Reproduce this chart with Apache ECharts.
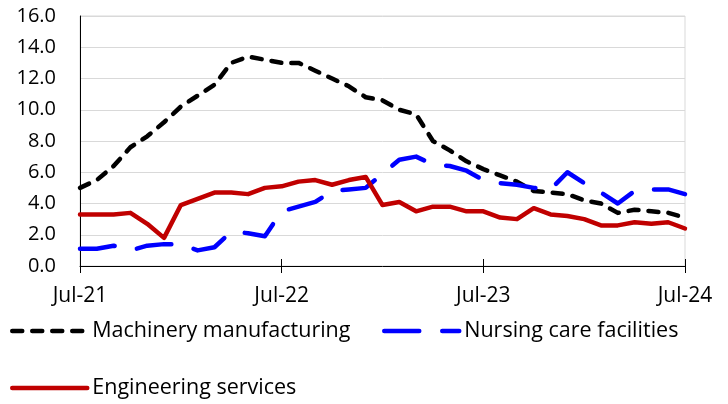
<!DOCTYPE html>
<html>
<head>
<meta charset="utf-8">
<script src="https://cdn.jsdelivr.net/npm/echarts@6/dist/echarts.min.js"></script>
<style>
html,body{margin:0;padding:0;background:#fff;}
#chart{width:728px;height:404px;}
</style>
</head>
<body>
<div id="chart"></div>
<script>
var months = ["Jul-21","Aug-21","Sep-21","Oct-21","Nov-21","Dec-21","Jan-22","Feb-22","Mar-22","Apr-22","May-22","Jun-22",
  "Jul-22","Aug-22","Sep-22","Oct-22","Nov-22","Dec-22","Jan-23","Feb-23","Mar-23","Apr-23","May-23","Jun-23",
  "Jul-23","Aug-23","Sep-23","Oct-23","Nov-23","Dec-23","Jan-24","Feb-24","Mar-24","Apr-24","May-24","Jun-24","Jul-24"];
var machinery = [5.0,5.5,6.4,7.6,8.3,9.2,10.2,10.9,11.6,13.0,13.4,13.2,13.0,13.0,12.5,12.0,11.5,10.8,10.6,10.0,9.7,8.0,7.4,6.7,6.2,5.8,5.4,4.8,4.7,4.6,4.2,4.0,3.4,3.6,3.5,3.4,3.1];
var nursing = [1.1,1.1,1.3,1.0,1.3,1.4,1.4,1.0,1.2,2.2,2.1,1.9,3.5,3.8,4.1,4.8,4.9,5.0,5.9,6.8,7.0,6.5,6.4,6.1,5.5,5.3,5.2,5.0,4.9,6.0,5.3,4.7,4.0,4.8,4.9,4.9,4.6];
var engineering = [3.3,3.3,3.3,3.4,2.7,1.8,3.9,4.3,4.7,4.7,4.6,5.0,5.1,5.4,5.5,5.2,5.5,5.7,3.9,4.1,3.5,3.8,3.8,3.5,3.5,3.1,3.0,3.7,3.3,3.2,3.0,2.6,2.6,2.8,2.7,2.8,2.4];
var seriesNames = ["Machinery manufacturing","Nursing care facilities","Engineering services"];

var FONT = "Open Sans";
var chart = echarts.init(document.getElementById('chart'), null, {renderer:'canvas'});
var legendText = {fontFamily:FONT, fontSize:21.5, color:'#000', lineHeight:22};
function mkLegend(name, left, top){
  return {data:[name], left:left, top:top, padding:0, itemWidth:75, itemHeight:14,
    textStyle:legendText, itemStyle:{opacity:0}, lineStyle:{width:4.5}};
}
chart.setOption({
  animation:false,
  backgroundColor:'#fff',
  grid:{left:80, right:43, top:16, bottom:138, show:true, borderColor:'#d9d9d9', borderWidth:1},
  legend:[
    mkLegend(seriesNames[0], 10, 320),
    mkLegend(seriesNames[1], 382, 320),
    mkLegend(seriesNames[2], 10, 377)
  ],
  xAxis:[{
    type:'category', data:months, boundaryGap:false,
    axisLine:{lineStyle:{color:'#000', width:1}},
    axisTick:{show:true, interval:11, length:7, lineStyle:{color:'#000'}},
    axisLabel:{interval:11, margin:20, fontFamily:FONT, fontSize:21, color:'#000'},
    splitLine:{show:false}
  },{
    type:'category', data:months, boundaryGap:false, position:'bottom',
    axisLine:{show:false},
    axisTick:{show:true, inside:true, interval:11, length:7, lineStyle:{color:'#000'}},
    axisLabel:{show:false},
    splitLine:{show:false}
  }],
  yAxis:{
    type:'value', min:0, max:16, interval:2,
    axisLine:{show:true, lineStyle:{color:'#000', width:1}},
    axisTick:{show:false},
    axisLabel:{margin:24, fontFamily:FONT, fontSize:20, color:'#000', formatter:function(v){return v.toFixed(1);}},
    splitLine:{lineStyle:{color:'#d9d9d9', width:1}}
  },
  series:[
    {name:seriesNames[0], type:'line', data:machinery, symbol:'none', smooth:false,
      lineStyle:{color:'#000000', width:4.5, type:[10,10], cap:'round', join:'round'}, itemStyle:{color:'#000'}},
    {name:seriesNames[1], type:'line', data:nursing, symbol:'none',
      lineStyle:{color:'#0000ff', width:4.5, type:[35,23], cap:'round', join:'round'}, itemStyle:{color:'#0000ff'}},
    {name:seriesNames[2], type:'line', data:engineering, symbol:'none',
      lineStyle:{color:'#c00000', width:4.5, type:'solid', cap:'round', join:'round'}, itemStyle:{color:'#c00000'}}
  ]
});
</script>
</body>
</html>
